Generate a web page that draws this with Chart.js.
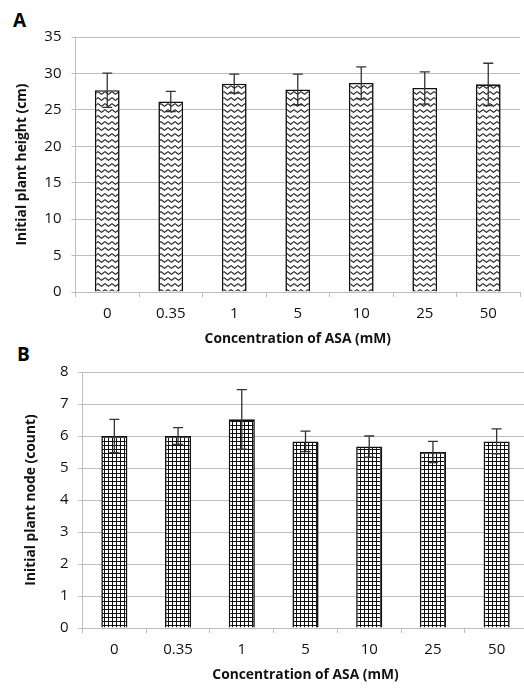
<!DOCTYPE html>
<html>
<head>
<meta charset="utf-8">
<script src="https://cdn.jsdelivr.net/npm/chart.js@4.4.0/dist/chart.umd.min.js"></script>
<style>
  html, body { margin: 0; padding: 0; background: #fff; overflow: hidden; width: 524px; height: 690px; }
  .panel { position: absolute; left: 0; }
  .letter { position: absolute; font-family: 'Open Sans', sans-serif; font-weight: bold; font-size: 19px; color: #000; }
</style>
</head>
<body>
<div class="letter" style="left:13px; top:7px;">A</div>
<div class="letter" style="left:17px; top:341px;">B</div>
<canvas id="chartB" class="panel" style="top:345px" width="540" height="345"></canvas>
<canvas id="chartA" class="panel" style="top:0" width="524" height="350"></canvas>
<script>
// Concentraciones de ASA (mM)
const concentraciones = ['0', '0.35', '1', '5', '10', '25', '50'];

// Panel A: altura inicial (cm) y su error
const alturaInicial = [27.7, 26.15, 28.6, 27.8, 28.7, 28.0, 28.5];
const alturaError = [2.35, 1.4, 1.3, 2.1, 2.2, 2.2, 2.9];

// Panel B: nudos iniciales (count) y su error
const nudosIniciales = [6.0, 6.0, 6.52, 5.83, 5.67, 5.5, 5.83];
const nudosError = [0.52, 0.26, 0.93, 0.32, 0.33, 0.33, 0.39];

const fuente = 'Open Sans';
const gris = '#bdbdbd';

// Patron ondulado para el panel A
function patronOndas() {
    const c = document.createElement('canvas');
    c.width = 7; c.height = 6;
    const g = c.getContext('2d');
    g.fillStyle = '#fff';
    g.fillRect(0, 0, 7, 6);
    g.strokeStyle = '#222';
    g.lineWidth = 1.1;
    g.beginPath();
    g.moveTo(-1.75, 3);
    g.lineTo(0, 1.6);
    g.lineTo(1.75, 3);
    g.lineTo(3.5, 4.4);
    g.lineTo(5.25, 3);
    g.lineTo(7, 1.6);
    g.lineTo(8.75, 3);
    g.stroke();
    return g.createPattern(c, 'repeat');
}

// Patron cuadriculado para el panel B
function patronCuadros() {
    const c = document.createElement('canvas');
    c.width = 4; c.height = 4;
    const g = c.getContext('2d');
    g.fillStyle = '#fff';
    g.fillRect(0, 0, 4, 4);
    g.fillStyle = '#111';
    g.fillRect(0, 0, 4, 1);
    g.fillRect(0, 0, 1, 4);
    return g.createPattern(c, 'repeat');
}

// Barras de error dibujadas con las escalas del grafico
const barrasError = {
    id: 'barrasError',
    afterDatasetsDraw(chart) {
        const ctx = chart.ctx;
        const yScale = chart.scales.y;
        const ds = chart.data.datasets[0];
        const meta = chart.getDatasetMeta(0);
        ctx.save();
        ctx.strokeStyle = '#333';
        ctx.lineWidth = 1.3;
        meta.data.forEach((bar, i) => {
            const v = ds.data[i], e = ds.errores[i];
            const yTop = yScale.getPixelForValue(v + e);
            const yBot = yScale.getPixelForValue(v - e);
            ctx.beginPath();
            ctx.moveTo(bar.x, yTop); ctx.lineTo(bar.x, yBot);
            ctx.moveTo(bar.x - 5, yTop); ctx.lineTo(bar.x + 5, yTop);
            ctx.moveTo(bar.x - 5, yBot); ctx.lineTo(bar.x + 5, yBot);
            ctx.stroke();
        });
        ctx.restore();
    }
};

function crearGrafico(id, valores, errores, relleno, opts) {
    const ctx = document.getElementById(id).getContext('2d');
    return new Chart(ctx, {
        type: 'bar',
        data: {
            labels: concentraciones,
            datasets: [{
                data: valores,
                errores: errores,
                backgroundColor: relleno,
                borderColor: '#111',
                borderWidth: 1.6,
                categoryPercentage: 1,
                barPercentage: opts.barPct
            }]
        },
        options: {
            responsive: false,
            animation: false,
            layout: { padding: { top: opts.top, right: opts.right, left: 0, bottom: 0 } },
            plugins: { legend: { display: false }, tooltip: { enabled: false } },
            scales: {
                x: {
                    grid: { display: true, drawOnChartArea: false, tickLength: 5, color: gris },
                    border: { display: true, color: gris, width: 1 },
                    ticks: { color: '#111', font: { family: fuente, size: 15 }, padding: 8 },
                    title: {
                        display: true,
                        text: 'Concentration of ASA (mM)',
                        color: '#111',
                        font: { family: fuente, size: 13.8, weight: 'bold' },
                        padding: { top: 0, bottom: opts.xTitlePad }
                    },
                    afterFit: s => { s.height = opts.xHeight; }
                },
                y: {
                    min: 0,
                    max: opts.max,
                    ticks: { stepSize: opts.step, color: '#111', font: { family: fuente, size: 15 }, padding: 10 },
                    grid: { color: gris, lineWidth: 1, tickLength: 4 },
                    border: { display: true, color: gris, width: 1 },
                    title: {
                        display: true,
                        text: opts.yTitle,
                        color: '#111',
                        font: { family: fuente, size: 13.8, weight: 'bold' },
                        padding: { top: opts.yTitlePad, bottom: 0 }
                    },
                    afterFit: s => { s.width = opts.yWidth; }
                }
            }
        },
        plugins: [barrasError]
    });
}

const graficoA = crearGrafico('chartA', alturaInicial, alturaError, patronOndas(), {
    barPct: 0.39, top: 37, right: 4, max: 35, step: 5, yWidth: 75.5, xHeight: 58,
    xTitlePad: 3, yTitle: 'Initial plant height (cm)', yTitlePad: 14
});

const graficoB = crearGrafico('chartB', nudosIniciales, nudosError, patronCuadros(), {
    barPct: 0.41, top: 27, right: 11.5, max: 8, step: 1, yWidth: 82.5, xHeight: 62,
    xTitlePad: 6.5, yTitle: 'Initial plant node (count)', yTitlePad: 22.5
});
</script>
</body>
</html>
